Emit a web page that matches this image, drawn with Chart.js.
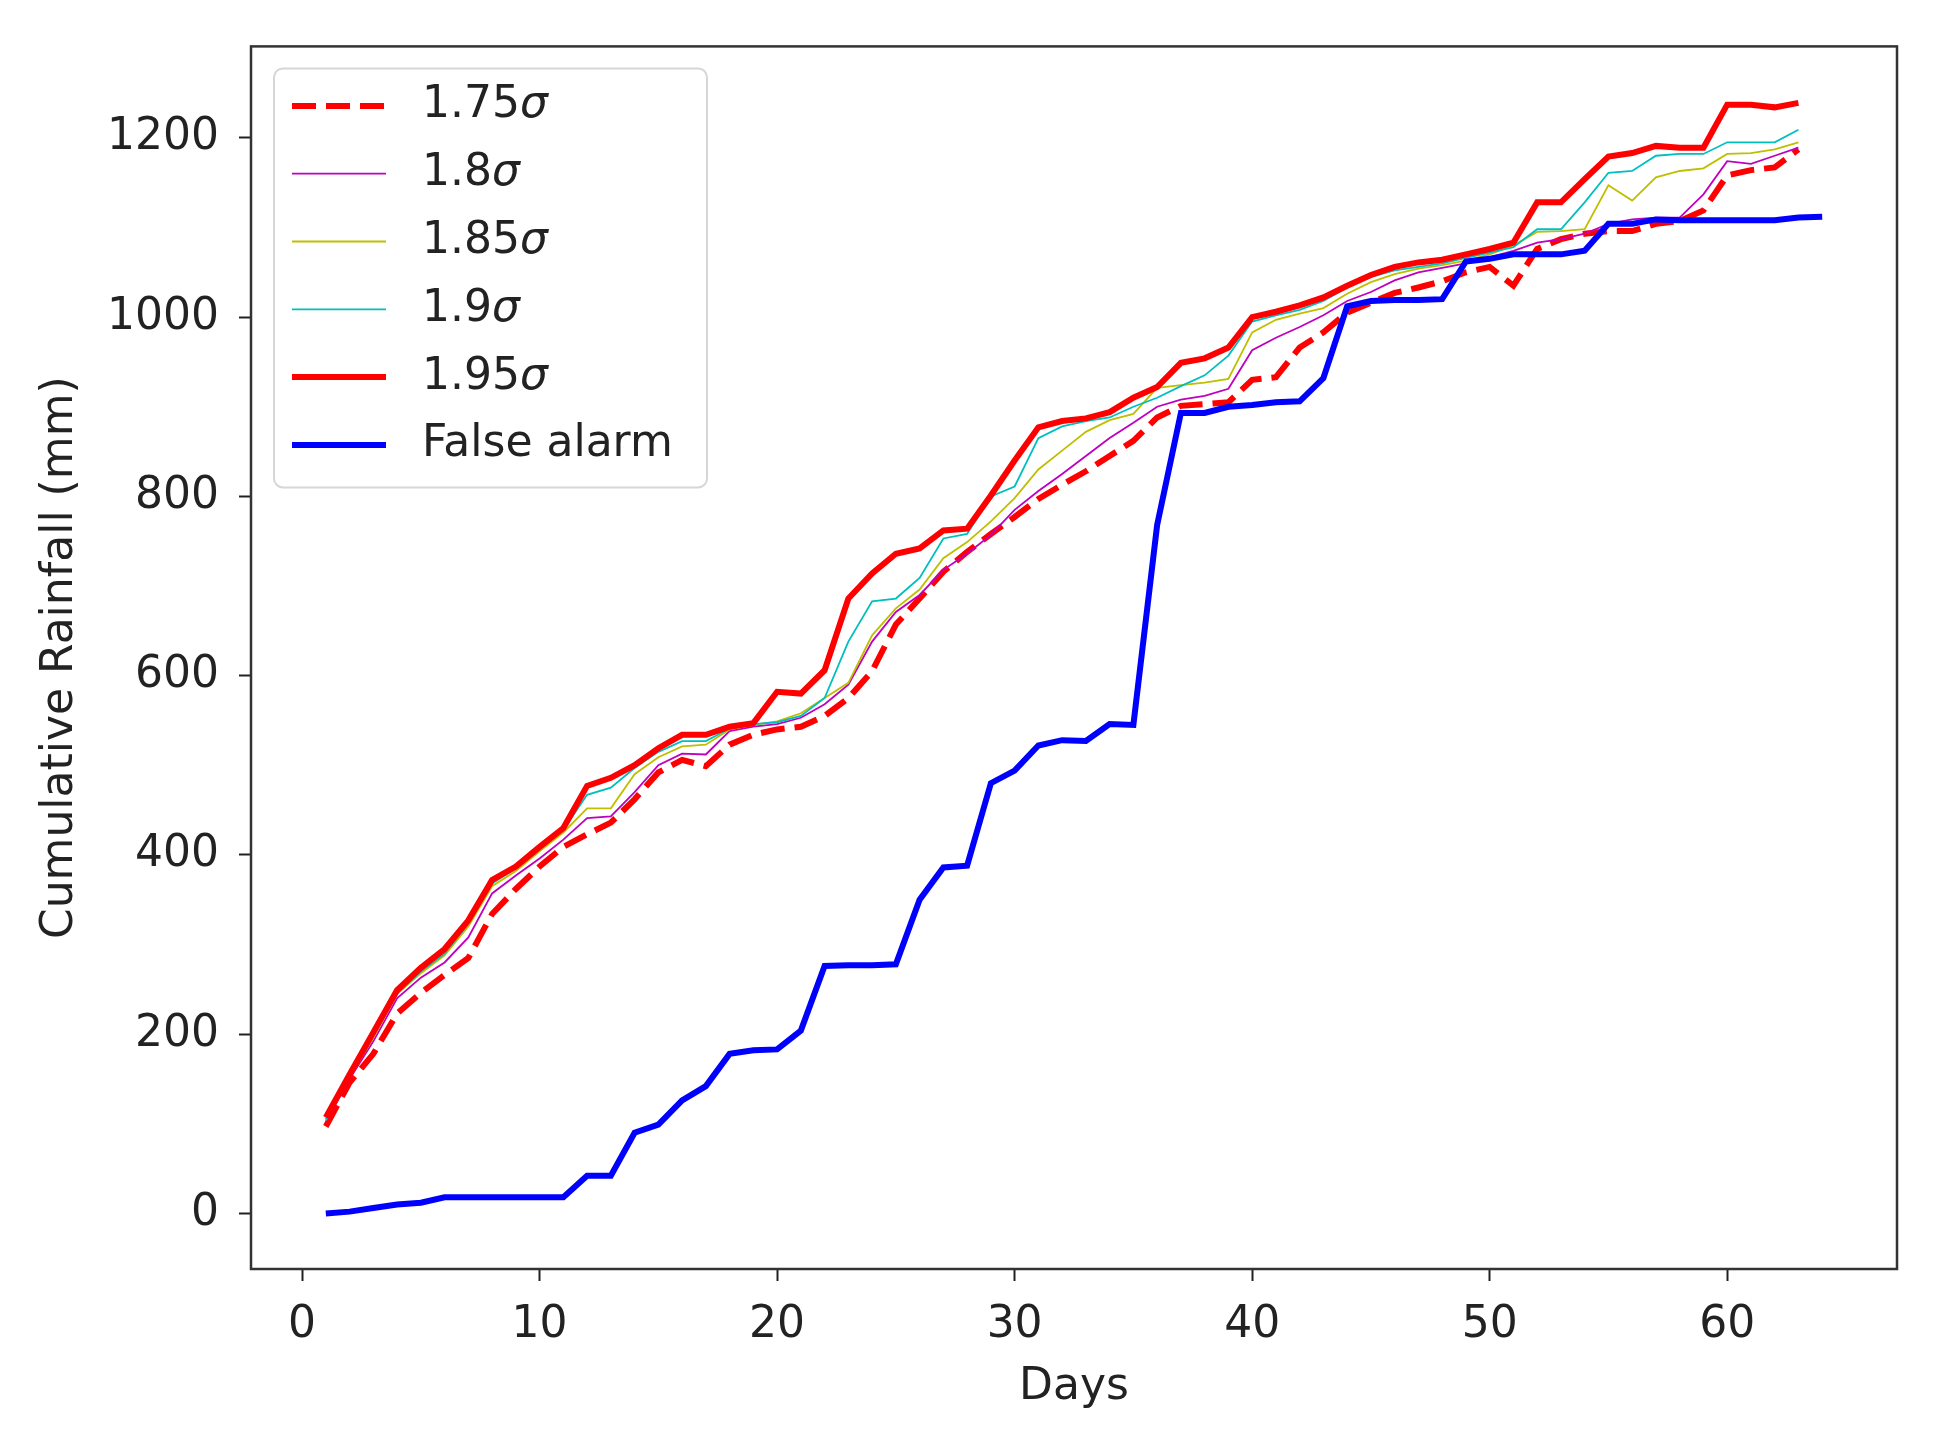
<!DOCTYPE html>
<html>
<head>
<meta charset="utf-8">
<script src="https://cdn.jsdelivr.net/npm/chart.js@4.4.1/dist/chart.umd.min.js"></script>
<style>
  html, body { margin: 0; padding: 0; background: #fff; }
</style>
</head>
<body>
<canvas id="rainChart" width="1947" height="1446"></canvas>
<script>
// days 1..64 (false alarm series has one more day)
var days = [1, 2, 3, 4, 5, 6, 7, 8, 9, 10, 11, 12, 13, 14, 15, 16, 17, 18, 19, 20,
  21, 22, 23, 24, 25, 26, 27, 28, 29, 30, 31, 32, 33, 34, 35, 36, 37, 38, 39, 40,
  41, 42, 43, 44, 45, 46, 47, 48, 49, 50, 51, 52, 53, 54, 55, 56, 57, 58, 59, 60,
  61, 62, 63, 64];

var sigma175 = [97, 146, 178, 223, 246, 266, 285, 334, 362, 387, 409, 423, 436, 462, 492, 506, 499, 523, 534, 540,
  543, 555, 575, 605, 657, 686, 716, 738, 758, 777, 797, 813, 828, 845, 862, 888, 901, 903, 905, 930,
  933, 966, 983, 1005, 1016, 1027, 1033, 1040, 1050, 1056, 1035, 1076, 1087, 1093, 1096, 1096, 1104, 1107, 1119, 1158,
  1164, 1167, 1187];
var sigma18 = [102, 150, 192, 240, 263, 280, 308, 357, 377, 396, 417, 441, 443, 470, 500, 513, 512, 538, 543, 546,
  553, 568, 590, 638, 671, 690, 718, 736, 757, 785, 806, 825, 845, 865, 882, 900, 908, 912, 920, 963,
  977, 989, 1002, 1018, 1028, 1041, 1050, 1055, 1060, 1067, 1074, 1083, 1087, 1093, 1104, 1109, 1111, 1111, 1137, 1174,
  1171, 1180, 1189];
var sigma185 = [104, 152, 196, 245, 268, 288, 320, 365, 382, 404, 425, 452, 452, 490, 509, 521, 523, 540, 545, 549,
  558, 575, 592, 645, 675, 696, 731, 749, 772, 798, 830, 851, 872, 885, 892, 921, 924, 927, 931, 983,
  997, 1004, 1010, 1026, 1039, 1048, 1054, 1058, 1063, 1070, 1080, 1095, 1096, 1098, 1147, 1130, 1156, 1163, 1166, 1182,
  1183, 1187, 1195];
var sigma19 = [105, 152, 198, 245, 270, 290, 323, 368, 385, 406, 428, 467, 475, 497, 515, 527, 527, 541, 546, 548,
  555, 575, 638, 683, 686, 709, 753, 758, 800, 811, 865, 878, 884, 888, 900, 910, 923, 935, 957, 995,
  1002, 1008, 1018, 1033, 1045, 1052, 1056, 1060, 1066, 1072, 1078, 1098, 1098, 1128, 1161, 1163, 1180, 1182, 1182, 1195,
  1195, 1195, 1209];
var sigma195 = [107, 155, 202, 249, 274, 295, 327, 372, 387, 409, 430, 477, 486, 500, 519, 534, 534, 543, 547, 582,
  580, 606, 686, 714, 736, 742, 762, 764, 801, 840, 877, 884, 887, 894, 910, 922, 949, 954, 966, 1000,
  1006, 1013, 1022, 1035, 1047, 1056, 1061, 1064, 1070, 1076, 1083, 1128, 1128, 1154, 1179, 1183, 1191, 1189, 1189, 1237,
  1237, 1234, 1239];
var falseAlarm = [0, 2, 6, 10, 12, 18, 18, 18, 18, 18, 18, 42, 42, 90, 99, 126, 142, 178, 182, 183,
  204, 276, 277, 277, 278, 350, 386, 388, 480, 494, 522, 528, 527, 546, 545, 768, 893, 893, 900, 902,
  905, 906, 932, 1012, 1018, 1019, 1019, 1020, 1062, 1065, 1070, 1070, 1070, 1074, 1104, 1104, 1109, 1108, 1108, 1108,
  1108, 1108, 1111, 1112];

var seriesNames = ['1.75σ', '1.8σ', '1.85σ', '1.9σ', '1.95σ', 'False alarm'];
var xTicks = [0, 10, 20, 30, 40, 50, 60];
var yTicks = [0, 200, 400, 600, 800, 1000, 1200];

function points(vals) {
  return vals.map(function (v, i) { return { x: days[i], y: v }; });
}

Chart.defaults.font.family = 'DejaVu Sans';
Chart.defaults.color = '#222';

// matplotlib style frame round the plot area
var frame = {
  id: 'frame',
  afterDatasetsDraw: function (chart) {
    var a = chart.chartArea, ctx = chart.ctx;
    ctx.save();
    ctx.strokeStyle = '#333';
    ctx.lineWidth = 2.5;
    ctx.strokeRect(a.left, a.top, a.right - a.left, a.bottom - a.top);
    ctx.restore();
  }
};

// legend box in the upper left corner
var legendBox = {
  id: 'legendBox',
  afterDraw: function (chart) {
    var a = chart.chartArea, ctx = chart.ctx;
    var x0 = a.left + 23, y0 = a.top + 22, w = 433, h = 419;
    ctx.save();
    ctx.beginPath();
    ctx.roundRect(x0, y0, w, h, 9);
    ctx.fillStyle = 'rgba(255,255,255,0.8)';
    ctx.fill();
    ctx.strokeStyle = '#d6d6d6';
    ctx.lineWidth = 2;
    ctx.stroke();
    chart.data.datasets.forEach(function (ds, i) {
      var cy = y0 + 37.5 + i * 67.8;
      ctx.beginPath();
      ctx.setLineDash(ds.borderDash || []);
      ctx.strokeStyle = ds.borderColor;
      ctx.lineWidth = ds.borderWidth;
      ctx.moveTo(x0 + 18, cy);
      ctx.lineTo(x0 + 112, cy);
      ctx.stroke();
      ctx.setLineDash([]);
      ctx.fillStyle = '#222';
      ctx.textBaseline = 'middle';
      ctx.textAlign = 'left';
      var label = ds.label, tx = x0 + 148;
      if (label.slice(-1) === 'σ') {
        var num = label.slice(0, -1);
        ctx.font = '44px "DejaVu Sans"';
        ctx.fillText(num, tx, cy);
        tx += ctx.measureText(num).width;
        ctx.font = 'oblique 44px "DejaVu Sans"';
        ctx.fillText('σ', tx, cy);
      } else {
        ctx.font = '44px "DejaVu Sans"';
        ctx.fillText(label, tx, cy);
      }
    });
    ctx.restore();
  }
};

var styles = [
  { color: 'rgb(255,0,0)', width: 6, dash: [24, 10] },
  { color: 'rgb(191,0,191)', width: 1.8, dash: [] },
  { color: 'rgb(191,191,0)', width: 1.8, dash: [] },
  { color: 'rgb(0,191,191)', width: 1.8, dash: [] },
  { color: 'rgb(255,0,0)', width: 6, dash: [] },
  { color: 'rgb(0,0,255)', width: 6, dash: [] }
];
var seriesVals = [sigma175, sigma18, sigma185, sigma19, sigma195, falseAlarm];

var ctx = document.getElementById('rainChart').getContext('2d');
var rainChart = new Chart(ctx, {
  type: 'line',
  data: {
    datasets: seriesVals.map(function (vals, i) {
      return {
        label: seriesNames[i],
        data: points(vals),
        borderColor: styles[i].color,
        borderWidth: styles[i].width,
        borderDash: styles[i].dash,
        pointRadius: 0,
        fill: false,
        tension: 0,
        order: seriesVals.length - i
      };
    })
  },
  options: {
    responsive: false,
    animation: false,
    layout: { padding: { left: 0, right: 50, top: 46, bottom: 0 } },
    plugins: {
      legend: { display: false },
      tooltip: { enabled: false }
    },
    scales: {
      x: {
        type: 'linear',
        min: -2.15,
        max: 67.15,
        afterBuildTicks: function (scale) {
          scale.ticks = xTicks.map(function (v) { return { value: v }; });
        },
        afterFit: function (scale) { scale.height = 177; },
        grid: { display: true, drawOnChartArea: false, tickLength: 12, tickColor: '#222', tickWidth: 2 },
        border: { display: false },
        ticks: { font: { size: 44 }, padding: 18, maxRotation: 0, callback: function (v) { return String(v); } },
        title: { display: true, text: 'Days', font: { size: 44 }, padding: { top: 0, bottom: 32 } }
      },
      y: {
        type: 'linear',
        min: -62,
        max: 1302,
        afterBuildTicks: function (scale) {
          scale.ticks = yTicks.map(function (v) { return { value: v }; });
        },
        afterFit: function (scale) { scale.width = 251; },
        grid: { display: true, drawOnChartArea: false, tickLength: 12, tickColor: '#222', tickWidth: 2 },
        border: { display: false },
        ticks: { font: { size: 44 }, padding: 20, callback: function (v) { return String(v); } },
        title: { display: true, text: 'Cumulative Rainfall (mm)', font: { size: 44 }, padding: { top: 34, bottom: 0 } }
      }
    }
  },
  plugins: [frame, legendBox]
});
</script>
</body>
</html>
